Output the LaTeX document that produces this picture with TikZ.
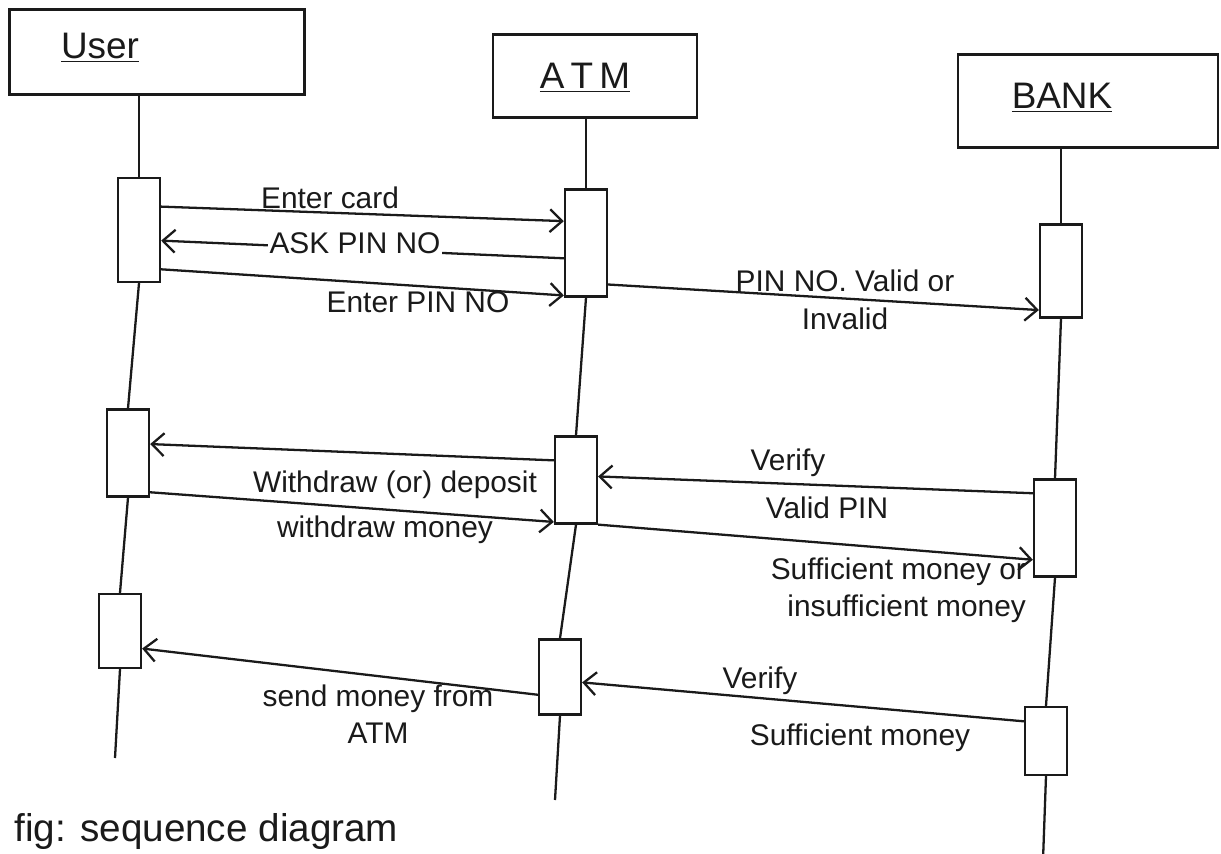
\documentclass[tikz,border=0pt]{standalone}
\usepackage{fontspec}
\setmainfont{Liberation Sans}
\usepackage{tikz}
\usetikzlibrary{
  arrows.meta,
  positioning,
  calc,
}
\definecolor{ink}{HTML}{1A1A1A}
\definecolor{paper}{HTML}{FFFFFF}
\tikzset{
  >={Straight Barb[length=7pt,width=13pt]},
  every node/.append style={text=ink},
  head/.style={draw=ink, line width=1.3pt, inner sep=0pt},
  headtxt/.style={font=\fontsize{21}{24}\selectfont, inner sep=1pt},
  act/.style={draw=ink, fill=paper, line width=1.3pt, minimum width=0.84cm, inner sep=0pt},
  life/.style={draw=ink, line width=1.3pt},
  msg/.style={draw=ink, line width=1.3pt, ->},
  lab/.style={font=\fontsize{17}{20}\selectfont, inner sep=1pt},
}

\begin{document}
\begin{tikzpicture}[x=0.02cm,y=-0.02cm]
  \fill[paper] (0,0) rectangle (1221,854);
  \useasboundingbox (0,0) rectangle (1221,854);

  % objects
  \node[head, minimum width=5.9cm, minimum height=1.7cm] (user) at (157,52) {};
  \node[head, minimum width=4.08cm, minimum height=1.66cm] (atm) at (595,76) {};
  \node[head, minimum width=5.2cm, minimum height=1.86cm] (bank) at (1088,101) {};
  \node[headtxt] (usertxt) at (100,48) {\underline{User}};
  \node[headtxt] (atmtxt) at (585,78) {\underline{A\,T\,M}};
  \node[headtxt] (banktxt) at (1062,98) {\underline{BANK}};

  % activations
  \node[act, minimum height=2.08cm] (u1) at (139,230) {};
  \node[act, minimum height=1.74cm] (u2) at (128,453) {};
  \node[act, minimum height=1.48cm] (u3) at (120,631) {};
  \node[act, minimum height=2.14cm] (a1) at (586,243) {};
  \node[act, minimum height=1.74cm] (a2) at (576,480) {};
  \node[act, minimum height=1.5cm] (a3) at (560,677) {};
  \node[act, minimum height=1.86cm] (b1) at (1061,271) {};
  \node[act, minimum height=1.94cm] (b2) at (1055,528) {};
  \node[act, minimum height=1.36cm] (b3) at (1046,741) {};

  % lifelines
  \coordinate (uend) at (115,758);
  \coordinate (aend) at (555,800);
  \coordinate (bend) at (1043,860);
  \draw[life] (u1.north |- user.south) -- (u1.north);
  \draw[life] (u1.south) -- (u2.north);
  \draw[life] (u2.south) -- (u3.north);
  \draw[life] (u3.south) -- (uend);
  \draw[life] (a1.north |- atm.south) -- (a1.north);
  \draw[life] (a1.south) -- (a2.north);
  \draw[life] (a2.south) -- (a3.north);
  \draw[life] (a3.south) -- (aend);
  \draw[life] (b1.north |- bank.south) -- (b1.north);
  \draw[life] (b1.south) -- (b2.north);
  \draw[life] (b2.south) -- (b3.north);
  \draw[life] (b3.south) -- (bend);

  % card and pin
  \draw[msg] ($(u1.north east)!.28!(u1.south east)$) -- ($(a1.north west)!.30!(a1.south west)$);
  \node[lab] (l1) at (330,198) {Enter card};
  \draw[msg] ($(a1.north west)!.64!(a1.south west)$) -- ($(u1.north east)!.60!(u1.south east)$);
  \node[lab, fill=paper] (l2) at (355,243) {ASK PIN NO};
  \draw[msg] ($(u1.north east)!.87!(u1.south east)$) -- ($(a1.north west)!.98!(a1.south west)$);
  \node[lab] (l3) at (418,302) {Enter PIN NO};
  \draw[msg] ($(a1.north east)!.88!(a1.south east)$) -- ($(b1.north west)!.91!(b1.south west)$);
  \node[lab, align=center] (l4) at (845,300) {PIN NO. Valid or\\[2pt]Invalid};

  % withdraw
  \draw[msg] ($(b2.north west)!.15!(b2.south west)$) -- ($(a2.north east)!.46!(a2.south east)$);
  \node[lab] (l5a) at (788,463) {Verify};
  \node[lab] (l5b) at (827,508) {Valid PIN};
  \draw[msg] ($(a2.north west)!.28!(a2.south west)$) -- ($(u2.north east)!.40!(u2.south east)$);
  \node[lab] (l6) at (395,485) {Withdraw (or) deposit};
  \draw[msg] ($(u2.north east)!.94!(u2.south east)$) -- ($(a2.north west)!.97!(a2.south west)$);
  \node[lab] (l7) at (385,530) {withdraw money};
  \draw[msg] (a2.south east) -- ($(b2.north west)!.82!(b2.south west)$);
  \node[lab, align=right, anchor=north east] (l8) at (1028,556) {Sufficient money or\\[1pt]insufficient money};

  % money out
  \draw[msg] ($(b3.north west)!.22!(b3.south west)$) -- ($(a3.north east)!.57!(a3.south east)$);
  \node[lab] (l9a) at (760,681) {Verify};
  \node[lab] (l9b) at (860,738) {Sufficient money};
  \draw[msg] ($(a3.north west)!.73!(a3.south west)$) -- ($(u3.north east)!.73!(u3.south east)$);
  \node[lab, align=center] (l10) at (378,714) {send money from\\[1pt]ATM};

  % caption
  \node[font=\fontsize{22}{26}\selectfont, anchor=south west, inner sep=0pt] (cap) at (14,850) {fig: sequence diagram};
\end{tikzpicture}
\end{document}
